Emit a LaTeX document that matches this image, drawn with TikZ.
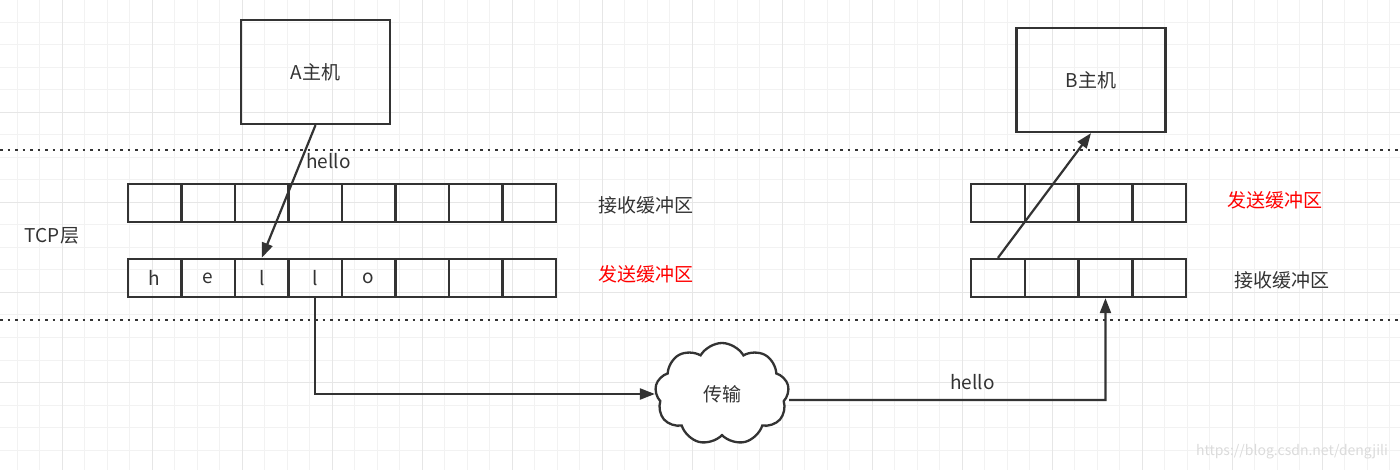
\documentclass[tikz,border=0pt]{standalone}
\usepackage{fontspec}
\setmainfont{Noto Sans CJK SC}
\usetikzlibrary{arrows.meta,shapes.symbols}

\definecolor{ink}{HTML}{333333}
\definecolor{gridminor}{HTML}{F2F2F2}
\definecolor{gridmajor}{HTML}{E6E6E6}

\tikzset{
  host/.style={draw=ink, line width=2.3pt, minimum width=149pt, minimum height=104pt, inner sep=0pt},
  cell/.style={draw=ink, line width=2.3pt, minimum width=53.5pt, minimum height=38pt, inner sep=0pt},
  layerline/.style={ink, line width=2.6pt, dash pattern=on 2.6pt off 4.9pt},
  conn/.style={ink, line width=2.2pt, -{Triangle[length=15pt,width=11pt]}},
  redlabel/.style={text=red},
}

\begin{document}
\begin{tikzpicture}[x=1pt, y=-1pt, font=\fontsize{19}{22}\selectfont, text=ink]

\useasboundingbox (0,0) rectangle (1400,470);
\fill[white] (0,0) rectangle (1400,470);

% grid
\foreach \gx in {17,39.5,...,1400} \draw[gridminor, line width=1pt] (\gx,0) -- (\gx,470);
\foreach \gy in {22.5,45,...,470} \draw[gridminor, line width=1pt] (0,\gy) -- (1400,\gy);
\foreach \gx in {62,152,...,1400} \draw[gridmajor, line width=1pt] (\gx,0) -- (\gx,470);
\foreach \gy in {112.5,202.5,...,470} \draw[gridmajor, line width=1pt] (0,\gy) -- (1400,\gy);

% layer borders
\draw[layerline] (0,150) -- (1400,150);
\draw[layerline] (0,320) -- (1400,320);

% hosts
\node[host] (A) at (315.5,72) {A主机};
\node[host] (B) at (1091,80) {B主机};

% buffers of A
\foreach \i in {1,...,8} {
  \node[cell] (ar\i) at (101.25+53.5*\i,203) {};
  \node[cell] (as\i) at (101.25+53.5*\i,278) {};
}
\node at (as1) {h};
\node at (as2) {e};
\node at (as3) {l};
\node at (as4) {l};
\node at (as5) {o};

% buffers of B
\foreach \i in {1,...,4} {
  \node[cell] (bs\i) at (971.1+53.75*\i-26.9,203) {};
  \node[cell] (br\i) at (971.1+53.75*\i-26.9,278) {};
}

% labels
\node (tcp) at (52,236) {TCP层};
\node (arlabel) at (646,205) {接收缓冲区};
\node[redlabel] (aslabel) at (646,274) {发送缓冲区};
\node[redlabel] (bslabel) at (1275,200) {发送缓冲区};
\node (brlabel) at (1282,280) {接收缓冲区};

% network
\node[cloud, draw=ink, line width=2.3pt, fill=white, cloud puffs=9, cloud puff arc=120,
      aspect=1.3, minimum width=134pt, minimum height=102pt, inner sep=0pt] (net) at (722,394) {传输};
\coordinate (turn) at (1105.5,400);

% connectors
\draw[conn] (A.south) -- node[pos=0.27, right=1pt] {hello} (as3.north);
\draw[conn] (as4.south) |- (net.west);
\draw[conn] (net.east |- turn) -- node[above=6pt, pos=0.58] {hello} (turn) -- (br3.south);
\draw[conn] (br1.north) -- (B.south);

% watermark
\node[text=black!14, font=\fontsize{14}{16}\selectfont] (mark) at (1292,452) {https://blog.csdn.net/dengjili};

\end{tikzpicture}
\end{document}
